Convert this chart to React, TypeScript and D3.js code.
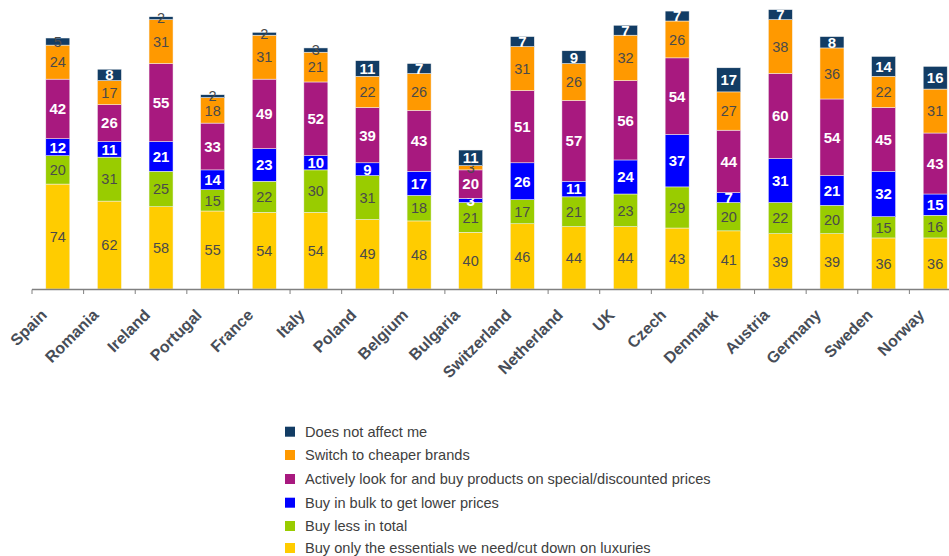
import React from "react";
import * as d3 from "d3";

const countries = ["Spain","Romania","Ireland","Portugal","France","Italy","Poland","Belgium","Bulgaria","Switzerland","Netherland","UK","Czech","Denmark","Austria","Germany","Sweden","Norway"];
const essentials = [74,62,58,55,54,54,49,48,40,46,44,44,43,41,39,39,36,36];
const buyLess = [20,31,25,15,22,30,31,18,21,17,21,23,29,20,22,20,15,16];
const bulk = [12,11,21,14,23,10,9,17,3,26,11,24,37,7,31,21,32,15];
const special = [42,26,55,33,49,52,39,43,20,51,57,56,54,44,60,54,45,43];
const cheaper = [24,17,31,18,31,21,22,26,3,31,26,32,26,27,38,36,22,31];
const notAffect = [5,8,2,2,2,3,11,7,11,7,9,7,7,17,7,8,14,16];

const seriesNames = [
  "Buy only the essentials we need/cut down on luxuries",
  "Buy less in total",
  "Buy in bulk to get lower prices",
  "Actively look for and buy products on special/discounted prices",
  "Switch to cheaper brands",
  "Does not affect me",
];
const seriesValues = [essentials, buyLess, bulk, special, cheaper, notAffect];
const colors = ["#ffcc00", "#99cc00", "#0000ff", "#a8197f", "#ff9900", "#123c64"];
const labelColors = ["#4a4a4a", "#4a4a4a", "#ffffff", "#ffffff", "#4a4a4a", "#ffffff"];

export default function App() {
  const W = 949, H = 556;
  const x = d3.scaleBand<string>().domain(countries).range([32, 961]).paddingInner(0.535).paddingOuter(0.2675);
  const y = d3.scaleLinear().domain([0, 200]).range([289, 5.4]);
  const step = x.step();
  const rows = countries.map((c, i) => {
    const r: any = { country: c };
    seriesValues.forEach((s, k) => (r["s" + k] = s[i]));
    return r;
  });
  const stack = d3.stack<any>().keys(seriesValues.map((_, k) => "s" + k))(rows);
  const legendOrder = [5, 4, 3, 2, 1, 0];
  const legendY = [431.7, 455, 479, 502.7, 526, 548];
  const ticks = d3.range(countries.length + 1).map((i) => 32 + i * step);

  return (
    <svg width={W} height={H} style={{ position: "absolute", left: 0, top: 0, background: "#fff" }} fontFamily="'Liberation Sans', Arial, sans-serif">
      {stack.map((layer, k) => (
        <g key={k}>
          {layer.map((d, i) => {
            const x0 = x(countries[i])!;
            const y0 = y(d[1]);
            const h = y(d[0]) - y(d[1]);
            const v = d[1] - d[0];
            let fill = labelColors[k];
            if (k === 5 && v < 7) fill = "#4a4a4a";
            const white = fill === "#ffffff";
            return (
              <g key={i}>
                <rect x={x0} y={y0} width={x.bandwidth()} height={h} fill={colors[k]} stroke="#f4f4f4" strokeWidth={0.5} />
                <text x={x0 + x.bandwidth() / 2} y={y0 + h / 2} dy="0.36em" textAnchor="middle" fontSize={white ? 15 : 14.5} fontWeight={white ? "bold" : "normal"} fill={fill}>{v}</text>
              </g>
            );
          })}
        </g>
      ))}
      <line x1={32} x2={W} y1={289.5} y2={289.5} stroke="#808080" strokeWidth={1.5} />
      {ticks.map((t, i) => (
        <line key={i} x1={t} x2={t} y1={289.5} y2={294} stroke="#808080" strokeWidth={1} />
      ))}
      {countries.map((c) => {
        const cx = x(c)! + x.bandwidth() / 2;
        return (
          <text key={c} transform={`translate(${cx - 18},${308}) rotate(-45)`} textAnchor="end" dy="0.71em" fontSize={16} fontWeight="bold" fill="#474d57">{c}</text>
        );
      })}
      {legendOrder.map((k, j) => (
        <g key={k}>
          <rect x={285} y={legendY[j] - 5} width={10} height={10} fill={colors[k]} />
          <text x={305} y={legendY[j]} dy="0.35em" fontSize={14.6} fill="#404040">{seriesNames[k]}</text>
        </g>
      ))}
    </svg>
  );
}
